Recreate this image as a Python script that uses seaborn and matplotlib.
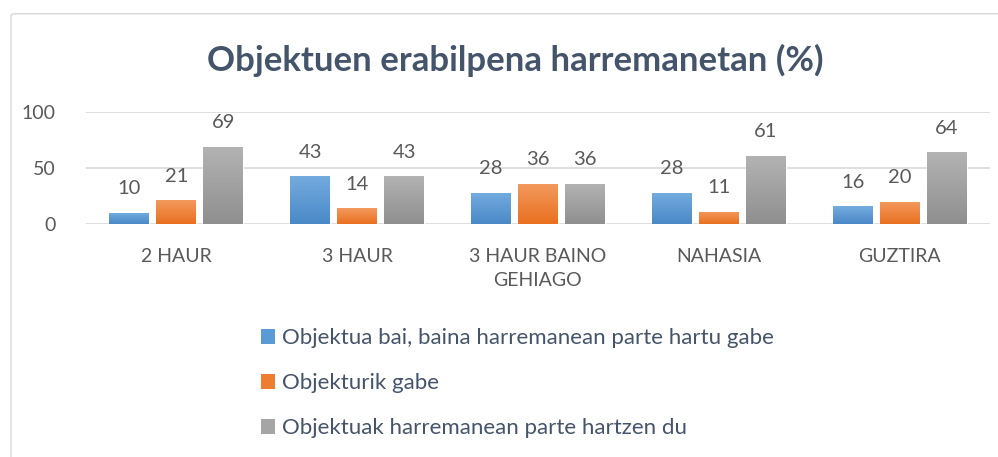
import numpy as np
import pandas as pd
import seaborn as sns
import matplotlib.pyplot as plt
from matplotlib.patches import FancyBboxPatch, Patch
from matplotlib.colors import LinearSegmentedColormap

# data
categories = ["2 HAUR", "3 HAUR", "3 HAUR BAINO\nGEHIAGO", "NAHASIA", "GUZTIRA"]
series = ["Objektua bai, baina harremanean parte hartu gabe",
          "Objekturik gabe",
          "Objektuak harremanean parte hartzen du"]
bai_gabe = [10, 43, 28, 28, 16]
gabe = [21, 14, 36, 11, 20]
parte = [69, 43, 36, 61, 64]

df = pd.DataFrame({
    "cat": categories * 3,
    "serie": [series[0]] * 5 + [series[1]] * 5 + [series[2]] * 5,
    "val": bai_gabe + gabe + parte,
})

# (top, bottom) colours for the excel-like gradient
grads = [("#74acdf", "#4a88c7"), ("#f39a5e", "#e9701f"), ("#b3b3b3", "#8f8f8f")]
solid = ["#5b9bd5", "#ed7d31", "#a5a5a5"]

sns.set_style("white")
plt.rcParams["font.family"] = ["Lato", "DejaVu Sans"]
text_col = "#44546a"
tick_col = "#595959"

fig = plt.figure(figsize=(9.98, 4.57), dpi=100)
ax = fig.add_axes([0.086, 0.51, 0.906, 0.245])

sns.barplot(data=df, x="cat", y="val", hue="serie", palette=solid,
            width=0.78, gap=0.15, ax=ax, legend=False, saturation=1)

ax.set_yticks([0, 50, 100])
ax.grid(axis="y", color="#d9d9d9", lw=1.2)
ax.set_axisbelow(True)
sns.despine(ax=ax, left=True, bottom=True)
ax.set_xlabel("")
ax.set_ylabel("")
ax.tick_params(axis="both", length=0, labelsize=14, colors=tick_col)
ax.tick_params(axis="x", pad=17)
ax.tick_params(axis="y", pad=22)
for lab in ax.get_xticklabels():
    lab.set_linespacing(1.5)

# gradient fills clipped to bars
for cont, (top, bot) in zip(ax.containers, grads):
    cmap = LinearSegmentedColormap.from_list("g", [bot, top])
    for p in cont.patches:
        x0, y0 = p.get_x(), p.get_y()
        w, h = p.get_width(), p.get_height()
        im = ax.imshow(np.linspace(0, 1, 100).reshape(-1, 1), cmap=cmap,
                       extent=[x0, x0 + w, y0, y0 + h], origin="lower",
                       aspect="auto", zorder=p.get_zorder() + 0.1)
        im.set_clip_path(p)
    ax.bar_label(cont, padding=11, fontsize=14.5, color=tick_col)
ax.set_xlim(-0.5, 4.5)
ax.set_ylim(0, 100)

fig.text(0.516, 0.868, "Objektuen erabilpena harremanetan (%)", ha="center",
         va="center", fontsize=25, fontweight="bold", color=text_col)

handles = [Patch(facecolor=c, edgecolor="none") for c in solid]
fig.legend(handles, series, loc="upper left", bbox_to_anchor=(0.241, 0.326),
           frameon=False, fontsize=16, labelcolor=text_col, handlelength=0.65,
           handleheight=0.65, handletextpad=0.3, labelspacing=1.13)

# chart frame
frame = FancyBboxPatch((0.011, -0.05), 1.1, 1.02, boxstyle="round,pad=0,rounding_size=0.005",
                       transform=fig.transFigure, fill=False, edgecolor="#d9d9d9", lw=1)
fig.patches.append(frame)

fig.savefig("out.png", dpi=100)
